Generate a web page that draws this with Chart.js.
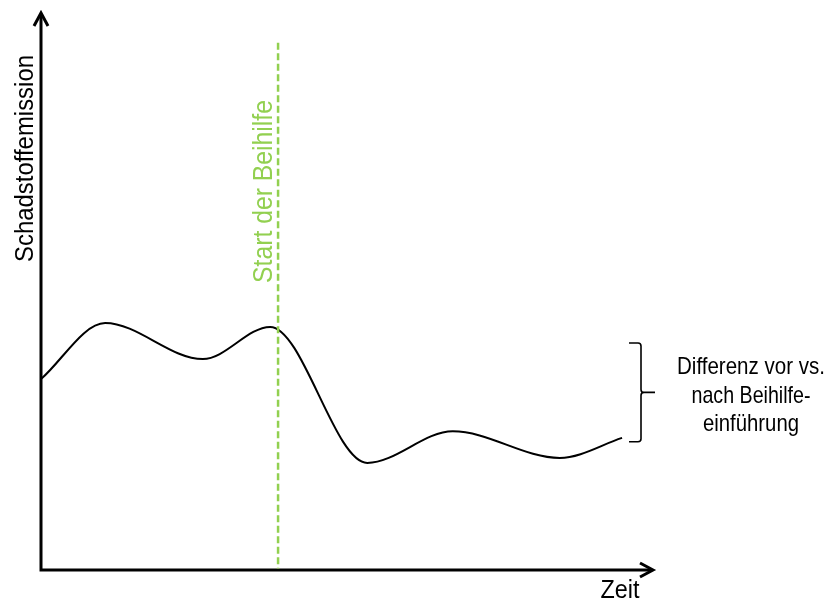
<!DOCTYPE html>
<html>
<head>
<meta charset="utf-8">
<script src="https://cdn.jsdelivr.net/npm/chart.js@4"></script>
<style>
  html, body { margin: 0; padding: 0; background: #fff; }
  #wrap { width: 828px; height: 604px; }
</style>
</head>
<body>
<div id="wrap"><canvas id="c" width="828" height="604"></canvas></div>
<script>
// Time axis (arbitrary units) and emission level at the turning points of the curve
const timePoints = [0, 10.5, 26.5, 37.5, 53.4, 67.4, 84.9, 95.1];
const emissionValues = [34.4, 44.5, 38.0, 43.8, 19.3, 25.0, 20.2, 23.8];

// Start of the subsidy on the time axis and top of its marker line
const subsidyStart = [38.8];
const markerTop = [95];

// Emission levels before and after the subsidy, spanned by the brace
const levelBefore = [40.9];
const levelAfter = [23.1];
const braceTime = [98.2];

// Text
const yAxisTitle = "Schadstoffemission";
const xAxisTitle = "Zeit";
const markerLabel = "Start der Beihilfe";
const braceLabel = ["Differenz vor vs.", "nach Beihilfe-", "einführung"];

const FONT = '"Liberation Sans Narrow", "Arial Narrow", "Liberation Sans", Arial, sans-serif';
const GREEN = '#92D050';

// Draw text stretched/condensed along its direction to a given length
function fitText(ctx, text, x, y, angle, size, length, align, color) {
  ctx.save();
  ctx.font = size + 'px ' + FONT;
  ctx.fillStyle = color;
  ctx.textBaseline = 'alphabetic';
  const w = ctx.measureText(text).width;
  const k = length ? length / w : 1;
  ctx.translate(x, y);
  ctx.rotate(angle);
  ctx.scale(k, 1);
  let dx = 0;
  if (align === 'center') dx = -w / 2;
  else if (align === 'right') dx = -w;
  ctx.fillText(text, dx, 0);
  ctx.restore();
}

const sketch = {
  id: 'sketch',
  afterDatasetsDraw(chart) {
    const ctx = chart.ctx;
    const xs = chart.scales.x, ys = chart.scales.y;
    const a = chart.chartArea;

    // Axes with open arrow heads
    ctx.save();
    ctx.strokeStyle = '#000';
    ctx.lineWidth = 3;
    ctx.lineCap = 'butt';
    ctx.beginPath();
    ctx.moveTo(a.left, a.bottom + 1.5);
    ctx.lineTo(a.left, a.top);
    ctx.moveTo(a.left - 1.5, a.bottom);
    ctx.lineTo(a.right, a.bottom);
    ctx.stroke();
    ctx.lineWidth = 3;
    ctx.lineJoin = 'miter';
    ctx.beginPath();
    ctx.moveTo(a.left - 7, a.top + 11);
    ctx.lineTo(a.left, a.top - 2);
    ctx.lineTo(a.left + 7, a.top + 11);
    ctx.moveTo(a.right - 12, a.bottom - 7);
    ctx.lineTo(a.right + 1, a.bottom);
    ctx.lineTo(a.right - 12, a.bottom + 7);
    ctx.stroke();
    ctx.restore();

    // Dashed marker at the start of the subsidy
    const mx = xs.getPixelForValue(subsidyStart[0]);
    ctx.save();
    ctx.strokeStyle = GREEN;
    ctx.lineWidth = 2.5;
    ctx.setLineDash([7, 3.5]);
    ctx.beginPath();
    ctx.moveTo(mx, ys.getPixelForValue(markerTop[0]));
    ctx.lineTo(mx, a.bottom - 1.5);
    ctx.stroke();
    ctx.restore();

    // Brace between the levels before and after
    const bx = xs.getPixelForValue(braceTime[0]);
    const yTop = ys.getPixelForValue(levelBefore[0]);
    const yBot = ys.getPixelForValue(levelAfter[0]);
    const yMid = (yTop + yBot) / 2;
    const r = 3;
    ctx.save();
    ctx.strokeStyle = '#000';
    ctx.lineWidth = 1.6;
    ctx.beginPath();
    ctx.moveTo(bx - 12, yTop);
    ctx.lineTo(bx - r, yTop);
    ctx.quadraticCurveTo(bx, yTop, bx, yTop + r);
    ctx.lineTo(bx, yMid - r);
    ctx.quadraticCurveTo(bx, yMid, bx + r, yMid);
    ctx.lineTo(bx + 14, yMid);
    ctx.moveTo(bx + r, yMid);
    ctx.quadraticCurveTo(bx, yMid, bx, yMid + r);
    ctx.lineTo(bx, yBot - r);
    ctx.quadraticCurveTo(bx, yBot, bx - r, yBot);
    ctx.lineTo(bx - 12, yBot);
    ctx.stroke();
    ctx.restore();

    // Labels
    fitText(ctx, yAxisTitle, a.left - 8, 262, -Math.PI / 2, 25, 207, 'left', '#000');
    fitText(ctx, xAxisTitle, 620, 598, 0, 25, 39, 'center', '#000');
    fitText(ctx, markerLabel, mx - 6, 283, -Math.PI / 2, 27, 183, 'left', GREEN);
    const lineY = [374, 403, 431];
    const lineW = [148, 119, 96];
    braceLabel.forEach((t, i) => fitText(ctx, t, 751, lineY[i], 0, 24, lineW[i], 'center', '#000'));
  }
};

new Chart(document.getElementById('c'), {
  type: 'line',
  data: {
    datasets: [{
      data: timePoints.map((t, i) => ({ x: t, y: emissionValues[i] })),
      borderColor: '#000',
      borderWidth: 2,
      pointRadius: 0,
      fill: false,
      cubicInterpolationMode: 'monotone'
    }]
  },
  options: {
    responsive: false,
    animation: false,
    layout: { padding: { left: 41, right: 176, top: 15, bottom: 34 } },
    plugins: { legend: { display: false }, tooltip: { enabled: false } },
    scales: {
      x: { type: 'linear', min: 0, max: 100, display: false },
      y: { type: 'linear', min: 0, max: 100, display: false }
    }
  },
  plugins: [sketch]
});
</script>
</body>
</html>
